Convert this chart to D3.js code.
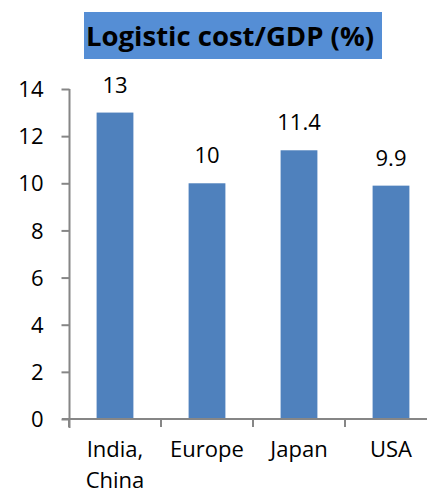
<!DOCTYPE html>
<html>
<head>
<meta charset="utf-8">
<script src="https://cdn.jsdelivr.net/npm/d3@7"></script>
<style>
  html, body { margin: 0; padding: 0; background: #fff; }
  svg { display: block; }
  text { font-family: "Open Sans", Lato, sans-serif; font-variant-ligatures: none; }
</style>
</head>
<body>
<svg id="chart" width="427" height="493"></svg>
<script>
const categories = [["India,", "China"], ["Europe"], ["Japan"], ["USA"]];
const values = [13, 10, 11.4, 9.9];
const valueLabels = ["13", "10", "11.4", "9.9"];
const yTicks = [0, 2, 4, 6, 8, 10, 12, 14];
const title = "Logistic cost/GDP (%)";

const svg = d3.select("#chart");
const barColor = "#4f81bd";
const axisColor = "#868686";
const fontSize = 22;

const x = d3.scaleBand()
  .domain(categories.map((d, i) => i))
  .range([69, 437])
  .paddingInner(0.6)
  .paddingOuter(0.3);

const y = d3.scaleLinear().domain([0, 14]).range([419, 89]);

// title box
const tg = svg.append("g");
tg.append("rect")
  .attr("x", 84).attr("y", 12).attr("width", 298).attr("height", 47)
  .attr("fill", "#558ed5");
tg.append("text")
  .attr("x", 230).attr("y", 46)
  .attr("text-anchor", "middle")
  .attr("font-weight", "bold")
  .attr("font-size", 27.5)
  .attr("fill", "#000")
  .text(title);

// bars
svg.append("g").selectAll("rect")
  .data(values)
  .join("rect")
  .attr("x", (d, i) => x(i))
  .attr("width", x.bandwidth())
  .attr("y", d => y(d))
  .attr("height", d => y(0) - y(d))
  .attr("fill", barColor);

// value labels
svg.append("g").selectAll("text")
  .data(values)
  .join("text")
  .attr("x", (d, i) => x(i) + x.bandwidth() / 2)
  .attr("y", d => y(d) - 20)
  .attr("text-anchor", "middle")
  .attr("font-size", fontSize)
  .attr("fill", "#000")
  .text((d, i) => valueLabels[i]);

// y axis
const yAxis = svg.append("g")
  .attr("transform", "translate(69.5,0)")
  .call(d3.axisLeft(y).tickValues(yTicks).tickSize(8).tickPadding(18).tickFormat(d3.format("d")));
yAxis.select(".domain").attr("stroke", axisColor).attr("stroke-width", 2).attr("d", "M0,89V428");
yAxis.selectAll(".tick line").attr("stroke", axisColor).attr("stroke-width", 2);
yAxis.selectAll(".tick text").attr("font-size", fontSize).attr("fill", "#000").attr("font-family", "'Open Sans', Lato, sans-serif").attr("dy", "0.35em");

// x axis
const xTickPos = d3.range(categories.length + 1).map(i => 69 + i * x.step());
const xg = svg.append("g");
xg.append("line")
  .attr("x1", 62).attr("x2", 437)
  .attr("y1", y(0)).attr("y2", y(0))
  .attr("stroke", axisColor).attr("stroke-width", 2);
xg.selectAll("line.tk")
  .data(xTickPos)
  .join("line")
  .attr("class", "tk")
  .attr("x1", d => d).attr("x2", d => d)
  .attr("y1", y(0)).attr("y2", y(0) + 8)
  .attr("stroke", axisColor).attr("stroke-width", 2);

const xl = xg.selectAll("text.cat")
  .data(categories)
  .join("text")
  .attr("class", "cat")
  .attr("text-anchor", "middle")
  .attr("font-size", fontSize)
  .attr("fill", "#000");
xl.each(function(lines, i) {
  const t = d3.select(this);
  lines.forEach((ln, j) => {
    t.append("tspan")
      .attr("x", x(i) + x.bandwidth() / 2)
      .attr("y", 457 + j * 31)
      .text(ln);
  });
});
</script>
</body>
</html>
